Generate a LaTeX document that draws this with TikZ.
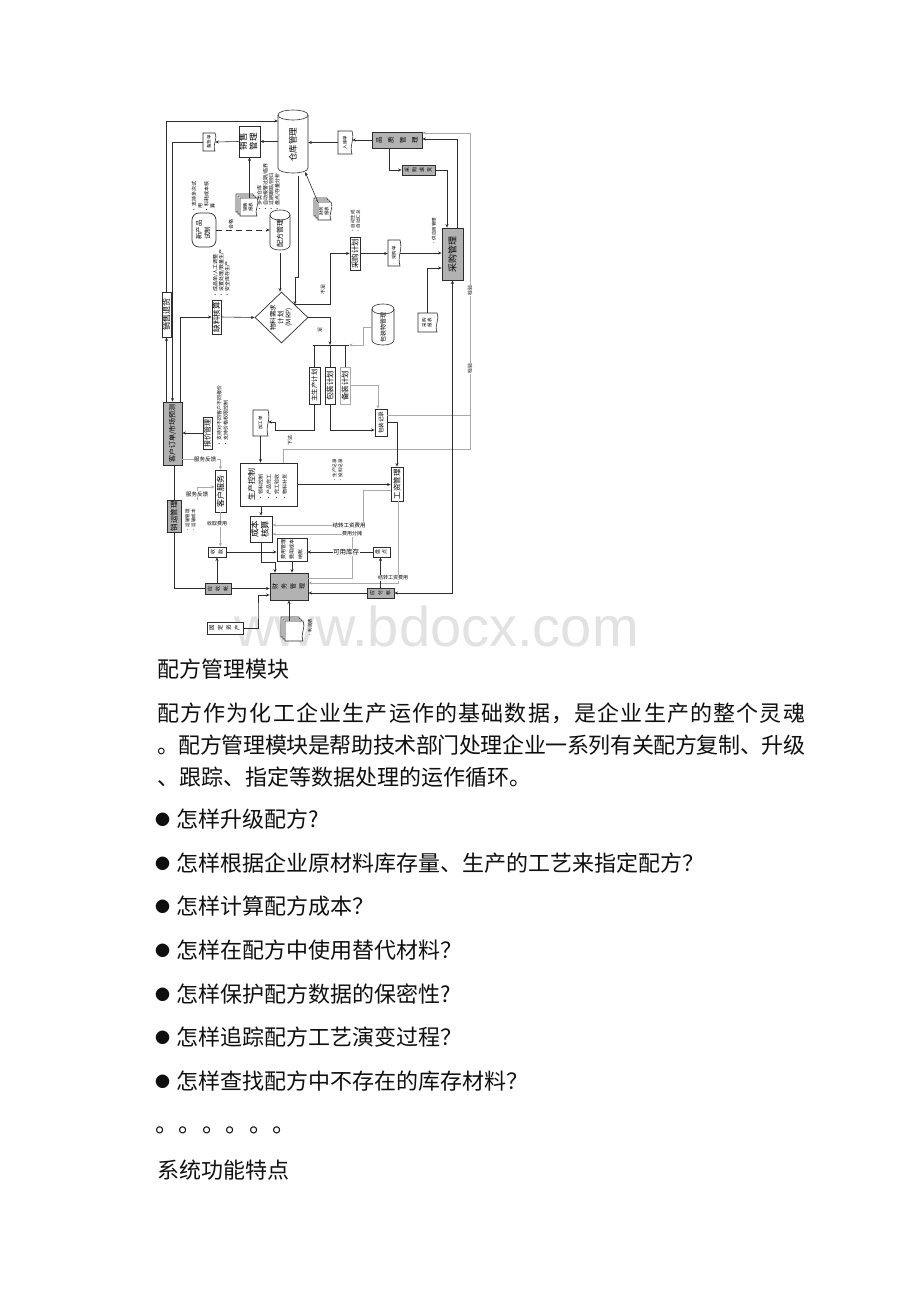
\documentclass[tikz,border=0pt]{standalone}
\usepackage{fontspec}
\setmainfont{Noto Sans CJK SC}
\newfontfamily\wmfont{Liberation Sans}
\usepackage{graphicx}
\usetikzlibrary{arrows.meta,shapes.geometric,calc}
\definecolor{linecol}{RGB}{45,45,45}
\definecolor{lightcol}{RGB}{170,170,170}
\definecolor{boxgray}{RGB}{178,178,178}
\definecolor{txtcol}{RGB}{15,15,15}
\definecolor{wmcol}{RGB}{226,226,226}
\newcommand\dfs[1]{\fontsize{#1}{#1}\selectfont}
\newcommand\vt[1]{\rotatebox{90}{#1}}
\newcommand\vl[3]{\rotatebox{90}{\fontsize{#1}{#2}\selectfont\begin{tabular}{@{}l@{}}#3\end{tabular}}}
\newcommand\vc[3]{\rotatebox{90}{\fontsize{#1}{#2}\selectfont\begin{tabular}{@{}c@{}}#3\end{tabular}}}
\newcommand\jline[1]{{\spaceskip=0pt plus 6pt minus 2pt\makebox[648pt][s]{#1}}}
\tikzset{
  ln/.style={draw=linecol, line width=0.6pt},
  lt/.style={draw=lightcol, line width=0.6pt},
  arr/.style={-{Stealth[length=3.6pt,width=3pt]}},
  arrboth/.style={{Stealth[length=3.6pt,width=3pt]}-{Stealth[length=3.6pt,width=3pt]}},
  bx/.style={draw=linecol, line width=0.7pt, fill=white, inner sep=0pt},
  gbx/.style={bx, fill=boxgray},
  lbl/.style={font=\dfs{5}, fill=white, inner sep=0.5pt},
  bul/.style={anchor=south, inner sep=0pt},
  ptxt/.style={anchor=base west, inner sep=0pt, font=\dfs{22}, text=txtcol},
}
\newcommand\docshape[4]{\draw[ln,fill=white] (#1,#2) -- (#3,#2) .. controls ({(#3)+3},{(#2)+0.4*((#4)-(#2))}) and ({(#3)-3},{(#2)+0.6*((#4)-(#2))}) .. (#3,#4) -- (#1,#4) -- cycle;}
\newcommand\docnode[6]{\docshape{#2}{#3}{#4}{#5}\node[inner sep=0pt, minimum width={(#4)-(#2)}, minimum height={(#5)-(#3)}] (#1) at ({((#2)+(#4))/2},{((#3)+(#5))/2}) {#6};}
\newcommand\docstack[6]{\docshape{#2-4}{#3-4}{#4-4}{#5-4}\docshape{#2-2}{#3-2}{#4-2}{#5-2}\docnode{#1}{#2}{#3}{#4}{#5}{#6}}
\newcommand\cylnode[6]{%
  \draw[ln,fill=white] (#2,{(#3)+5}) -- (#2,{(#5)-5}) .. controls (#2,{(#5)+1.7}) and (#4,{(#5)+1.7}) .. (#4,{(#5)-5}) -- (#4,{(#3)+5}) .. controls (#4,{(#3)-1.7}) and (#2,{(#3)-1.7}) .. cycle;
  \draw[ln] (#2,{(#3)+5}) .. controls (#2,{(#3)+11.7}) and (#4,{(#3)+11.7}) .. (#4,{(#3)+5});
  \node[inner sep=0pt, minimum width={(#4)-(#2)}, minimum height={(#5)-(#3)}] (#1) at ({((#2)+(#4))/2},{((#3)+(#5))/2+3}) {#6};}
\begin{document}
\begin{tikzpicture}[x=1pt,y=-1pt]
\useasboundingbox (0,0) rectangle (920,1302);
\fill[white] (0,0) rectangle (920,1302);
\node[anchor=base west, inner sep=0pt, font=\wmfont\dfs{56}, text=wmcol] (wm) at (234,646) {www.bdocx.com};

% ---------- diagram nodes ----------
\cylnode{ck}{278}{110}{308}{173}{\dfs{8.5}\vt{仓库管理}}
\node[bx, minimum width=21, minimum height=31] (xs) at (249.5,141.5) {\vl{8.5}{10}{销售\\管理}};
\docnode{bh}{203}{133}{215}{151}{\dfs{4.5}\vt{备货单}}
\docnode{rk}{338}{131}{352}{154}{\dfs{4.5}\vt{入库单}}
\node[gbx, minimum width=50, minimum height=16] (pz) at (397,140) {\vc{6.5}{12}{品\\质\\管\\理}};
\node[gbx, minimum width=33, minimum height=10] (th) at (418.5,170) {\vc{5}{7.5}{采\\购\\退\\货}};
\node[gbx, minimum width=21, minimum height=52] (cg) at (452.5,254) {\dfs{9}\vt{采购管理}};
\docstack{cwb}{318}{202}{331}{220}{\vl{4.5}{5.5}{财务\\报表}}
\node[bul] (ckb) at (269,212) {\vl{5}{5.6}{• 多类仓库\\• 自动报警过期/临界\\• 过期跟踪/回归\\• 盘点/存量分析}};
\docstack{xsb}{240}{198}{257}{216}{\vl{4.5}{5.5}{销售\\报表}}
\node[bx, rounded corners=7, minimum width=24, minimum height=34] (xp) at (204,230) {\vl{6.5}{8.5}{新产品\\试制}};
\node[bul] (xpb) at (204,213) {\vl{5}{6.3}{• 支持多次试\\\hspace{4pt}用\\• 料耗成本核\\\hspace{4pt}算}};
\cylnode{pf}{270}{210}{290}{250}{\dfs{7}\vt{配方管理}}
\node[inner sep=0pt] (hg) at (231,224) {\dfs{5}\vt{合格}};
\node[draw=linecol, line width=0.7pt, diamond, fill=white, minimum width=53, minimum height=51, inner sep=0pt] (mrp) at (281.5,317.5) {\vc{6.5}{7.5}{物料需求\\计划\\(MRP)}};
\node[bx, minimum width=9, minimum height=34] (ql) at (216.5,317) {\dfs{7.5}\vt{缺料核算}};
\node[bul] (qlb) at (222,298) {\vl{5}{6}{• 成品单/人工调整\\• 设置处理/数量生产\\• 安全库存生产}};
\node[bx, minimum width=9, minimum height=45] (tu) at (166.5,314.5) {\dfs{8}\vt{销售退货}};
\node[gbx, minimum width=19, minimum height=63] (kh) at (172.5,433.5) {\dfs{7}\vt{客户订单/市场预测}};
\node[bx, minimum width=10, minimum height=33] (cgjh) at (355,253.5) {\dfs{7.5}\vt{采购计划}};
\node[bul] (cgjhb) at (356,234) {\vl{4.5}{5.5}{• 自动生成\\• 自动汇总}};
\docnode{cgd}{388}{240}{400}{266}{\dfs{4.5}\vt{采购单}}
\node[bul] (gysb) at (434,246) {\dfs{4.5}\vt{• 供应商管理}};
\docnode{cgb}{418}{313}{437}{332}{\vl{4.5}{5.5}{采购\\报表}}
\cylnode{bzw}{372}{304}{394}{345}{\dfs{6}\vt{包装物管理}}
\node[bx, minimum width=11, minimum height=37] (sc) at (314.5,385.5) {\dfs{6.5}\vt{主生产计划}};
\node[bx, minimum width=10, minimum height=37] (bz) at (330,385.5) {\dfs{7.5}\vt{包装计划}};
\node[bx, draw=lightcol, minimum width=10, minimum height=37] (bzj) at (345,385.5) {\dfs{7.5}\vt{备装计划}};
\node[bx, minimum width=12, minimum height=27] (bjl) at (381,422.5) {\dfs{5.5}\vt{包装记录}};
\docnode{jgd}{253}{410}{268}{436}{\dfs{4.5}\vt{加工单}}
\node[inner sep=0pt] (xd) at (290,440) {\dfs{5}\vt{下达}};
\node[bx, minimum width=57, minimum height=43] (sk) at (268.5,484.5) {\vl{5}{8}{{\dfs{8}生产控制}\\• 领料控制\\• 产品完工\\• 完工验收\\• 物料补货}};
\node[bul] (skb) at (338,483) {\vl{4.5}{6}{• 生产记录\\• 投料记录}};
\node[bx, minimum width=12, minimum height=34] (gz) at (397,484) {\dfs{7.5}\vt{工资管理}};
\node[bx, minimum width=22, minimum height=26] (cb) at (261,529) {\vl{8.5}{10}{成本\\核算}};
\node[bx, minimum width=30, minimum height=23] (fy) at (292,549.5) {\vl{5}{8.5}{费用管理\\费用成本\\纳账}};
\node[bx, minimum width=17, minimum height=10] (pd) at (381.5,552) {\vc{5}{7}{盘\\点}};
\node[gbx, minimum width=27, minimum height=10] (yf) at (380.5,593) {\vc{5}{8}{应\\付\\帐}};
\node[gbx, minimum width=38, minimum height=27] (cw) at (289,586.5) {\vc{6}{9}{财\\务\\管\\理}};
\node[bx, minimum width=18, minimum height=10] (sy) at (217,552) {\vc{5}{8}{收\\款}};
\node[gbx, minimum width=26, minimum height=11] (ys) at (218,588.5) {\vc{5}{8}{应\\收\\帐}};
\node[bx, minimum width=36, minimum height=12] (gd) at (225,628) {\vc{5.5}{8.5}{固\\定\\资\\产}};
\docstack{bb}{285}{621}{303}{641}{}
\node[bul] (bbt) at (310,638) {\dfs{4.5}\vt{• 利润表}};
\node[gbx, minimum width=14, minimum height=32] (ky) at (174,516) {\dfs{7.5}\vt{销运管理}};
\node[bul] (kyb) at (191,533) {\vl{4.5}{6}{• 运输管理\\• 运输成本}};
\node[bx, minimum width=11, minimum height=42] (kf) at (220.5,491) {\dfs{8}\vt{客户服务}};
\node[bx, minimum width=9, minimum height=32] (bj) at (207.5,433) {\dfs{7}\vt{报价管理}};
\node[bul] (bjb) at (223,447) {\vl{5}{6.5}{• 支持对不同客户不同报价\\• 支持价格权限控制}};

% ---------- connectors ----------
\draw[ln,arr] (xs.west) -- (bh.east);
\draw[ln,arr] (bh.west) -| (kh.north);
\draw[ln,arr] (kh.north -| tu.south) -- (tu.south);
\coordinate (ckin) at (278,121);
\draw[ln,arr] (tu.north) |- (ckin);
\draw[ln,arr] (ck.west |- xs.east) -- (xs.east);
\draw[ln,arr] (rk.west) -- (rk.west -| ck.east);
\draw[ln,arr] (pz.west) -- (pz.west -| rk.east);
\draw[ln,arr] ($(pz.south)+(-8,0)$) |- (th.west);
\draw[ln,arr] (th.east) -| ($(cg.north)+(-5.5,0)$);
\draw[ln,arr] ($(cg.north)+(4.5,0)$) |- ($(pz.east)+(0,-1)$);
\coordinate (jyc) at (470,449);
\draw[lt,arr] ($(sk.north)+(14.5,0)$) |- (jyc) |- ($(pz.east)+(0,-7)$);
\coordinate (bjlo) at ($(bjl.east)+(0,-7.5)$);
\draw[lt] (bjlo) -- (bjlo -| jyc);
\draw[ln,arrboth] (yf.east) -| (cg.south);
\draw[ln,arr] (cwb.north west) -- ($(ck.south east)+(-3,-4)$);
\draw[ln,arr] (xs.south |- xsb.north) -- (xs.south);
\draw[ln,arr,dash pattern=on 6pt off 4pt] (xp.east) -- (xp.east -| pf.west);
\draw[ln,arr] (pf.south) -- (pf.south |- mrp.north);
\coordinate (ckj) at (298,277);
\draw[ln,arr] (ckj |- ck.south) -- (ckj) -| (mrp.north east);
\draw[ln,arr] (ql.east) -- (mrp.west);
\draw[ln,arr] ($(kh.north)+(7.5,0)$) |- (ql.west);
\coordinate (cx) at (330,345);
\draw[ln,arr] (mrp.north east) -| (cx |- cgjh.west) -- (cgjh.west);
\draw[ln,arr] (mrp.east) -| (cx);
\draw[ln,arr] (cgjh.east) -- (cgjh.east -| cgd.west);
\draw[ln,arr] (cgd.east) -- (cgd.east -| cg.west);
\draw[ln,arr] (cgb.north) |- ($(cg.west)+(0,14)$);
\coordinate (busl) at (313,345);
\coordinate (busm) at (349,345);
\coordinate (busr) at (363,345);
\draw[ln] (busl) -- (busm);
\draw[lt,arr] (bzw.west) -| (busr) -- (busm);
\draw[ln] (busl -| sc.north) -- (sc.north);
\draw[ln] (busl -| bz.north) -- (bz.north);
\draw[ln] (busl -| bzj.north) -- (bzj.north);
\draw[ln,arr] (bz.south) |- ($(bjl.west)+(0,7.5)$);
\draw[lt,arr] (bzj.east) -| ($(bjl.north)+(-3,0)$);
\draw[ln,arr] (bjl.east) -| (gz.north);
\coordinate (jgk) at (275,422);
\draw[ln,arr] (sc.south) -- ($(sc.south)+(0,26)$) -| (jgk) -- (jgk -| jgd.east);
\draw[ln,arr] (jgd.south) -- (jgd.south |- sk.north);
\draw[ln,arr] (sk.east) -- (sk.east -| gz.west);
\draw[ln,arr] (sk.south -| cb.north) -- (cb.north);
\coordinate (jzA) at (363,525);
\draw[lt,arr] ($(gz.west)+(0,6)$) -| (jzA) -- (jzA -| cb.east);
\coordinate (ftA) at (352,534);
\draw[lt,arr] ($(cw.east)+(0,-8.5)$) -| (ftA) -- (ftA -| cb.east);
\draw[ln,arr] (pd.west) -- (pd.west -| fy.east);
\draw[ln,arr] (sy.east) -- (sy.east -| fy.west);
\draw[ln,arr] (fy.south) -- (fy.south |- cw.north);
\draw[ln,arr] (cb.south) -- ($(cb.south)+(0,20)$) -| ($(cw.north)+(-14,0)$);
\draw[lt,arr] ($(gz.south)+(1,0)$) |- ($(cw.east)+(0,-3.5)$);
\draw[ln,arr] (yf.north) -- (yf.north |- pd.south);
\draw[ln,arr] (yf.west) -- (yf.west -| cw.east);
\draw[lt,arr] (kf.south) -- (kf.south |- sy.north);
\draw[ln,arr] (sy.south |- ys.north) -- (sy.south);
\draw[ln,arr] (ys.east) -- (ys.east -| cw.west);
\draw[ln] (ky.south) |- (ys.west);
\draw[ln] (kh.south -| ky.north) -- (ky.north);
\coordinate (gdk) at (258,610);
\draw[ln,arr] (gd.east) -| (gdk) |- ($(cw.west)+(0,8.5)$);
\draw[ln,arr] (cw.south |- bb.north) -- (cw.south);
\draw[lt,arr] ($(kh.east)+(0,25.5)$) -| (kf.north);
\coordinate (fk2) at (197,500);
\draw[lt,arr] (fk2) |- ($(kf.west)+(0,-4)$);
\draw[ln,arr] (bj.west) -- (bj.west -| kh.east);

% ---------- connector labels ----------
\node[lbl] (jy1) at (470,290) {\vt{检验}};
\node[lbl] (jy2) at (470,368) {\vt{检验}};
\node[inner sep=0pt] (bzl) at (323,289) {\dfs{5}\vt{不足}};
\node[inner sep=0pt] (zl) at (320,330) {\dfs{5}\vt{足}};
\node[lbl, font=\dfs{5.5}] (jzl) at (349,525) {结转工资费用};
\node[lbl] (ftl) at (352,534) {费用分摊};
\node[lbl, font=\dfs{6.5}] (kyl) at (346,552) {可用库存};
\node[lbl] (jzl2) at (393,578) {结转工资费用};
\node[lbl] (sql) at (217,524) {收取费用};
\node[lbl, font=\dfs{5.5}] (fk1) at (205,459) {服务反馈};
\node[lbl, font=\dfs{5.5}] (fk2l) at (197,494) {服务反馈};

% ---------- text ----------
\node[ptxt] (h1) at (157,677) {配方管理模块};
\node[ptxt] (p1) at (157,721) {\jline{配 方 作 为 化 工 企 业 生 产 运 作 的 基 础 数 据 ， 是 企 业 生 产 的 整 个 灵 魂}};
\node[ptxt] (p2) at (157,753) {\jline{。 配 方 管 理 模 块 是 帮 助 技 术 部 门 处 理 企 业 一 系 列 有 关 配 方 复 制 、 升 级}};
\node[ptxt] (p3) at (157,785) {、跟踪、指定等数据处理的运作循环。};
\newcommand\bu{\raisebox{1.5pt}{\dfs{15}●}\hspace{6pt}}
\node[ptxt] (q1) at (155,827) {\bu 怎样升级配方?};
\node[ptxt] (q2) at (155,871) {\bu 怎样根据企业原材料库存量、生产的工艺来指定配方？};
\node[ptxt] (q3) at (155,914) {\bu 怎样计算配方成本？};
\node[ptxt] (q4) at (155,958) {\bu 怎样在配方中使用替代材料？};
\node[ptxt] (q5) at (155,1002) {\bu 怎样保护配方数据的保密性?};
\node[ptxt] (q6) at (155,1045) {\bu 怎样追踪配方工艺演变过程？};
\node[ptxt] (q7) at (155,1089) {\bu 怎样查找配方中不存在的库存材料？};
\node[ptxt, font=\dfs{23.5}] (dots) at (155,1132) {。。。。。。};
\node[ptxt] (h2) at (157,1178) {系统功能特点};
\end{tikzpicture}
\end{document}
